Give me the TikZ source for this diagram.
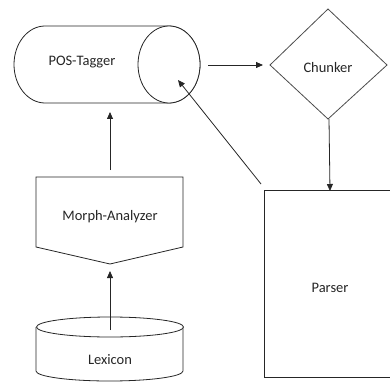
\documentclass[tikz,border=0pt]{standalone}
\usepackage{fontspec}
\setmainfont{Carlito}
\usetikzlibrary{arrows.meta}
\begin{document}
\begin{tikzpicture}[x=1pt,y=-1pt,
  shapeline/.style={draw=black!85,line width=0.8pt,fill=white},
  conn/.style={draw=black!85,line width=0.8pt,-{Triangle[length=7pt,width=6pt]}},
  lbl/.style={font=\fontsize{14.5}{16}\selectfont,text=black!85,inner sep=0pt}]
\useasboundingbox (0,0) rectangle (390,382);
% POS-Tagger cylinder
\path[shapeline] (169,26) -- (45,26) arc[start angle=270,end angle=90,x radius=31,y radius=38.5] -- (169,103) arc[start angle=90,end angle=-90,x radius=31,y radius=38.5] -- cycle;
\draw[shapeline] (169,64.5) ellipse[x radius=31,y radius=38.5];
\node[lbl] (pos) at (82,62) {POS-Tagger};
% Chunker diamond
\path[shapeline,draw=black!70] (270,65) -- (328,9) -- (387,65) -- (328,119) -- cycle;
\node[lbl] (chunk) at (328,68) {Chunker};
% Parser rectangle
\path[shapeline] (395,190) -- (264,190) -- (264,377) -- (395,377);
\node[lbl] (parser) at (330,288) {Parser};
% Morph-Analyzer pentagon
\path[shapeline] (36,177) -- (183,177) -- (183,247) -- (110,264) -- (36,247) -- cycle;
\node[lbl] (morph) at (110,217) {Morph-Analyzer};
% Lexicon cylinder
\path[shapeline] (36,327) -- (36,371) arc[start angle=180,end angle=0,x radius=73.5,y radius=10] -- (183,327);
\draw[shapeline] (110,327) ellipse[x radius=73.5,y radius=10];
\node[lbl] (lex) at (110,360) {Lexicon};
% connector end points
\coordinate (posR) at (208,65);
\coordinate (chunkL) at (263,65);
\coordinate (chunkB) at (329,119);
\coordinate (parserT) at (330,191);
\coordinate (parserC) at (261,184);
\coordinate (posE) at (178,80);
\coordinate (morphT) at (110,170);
\coordinate (posB) at (110,112);
\coordinate (lexT) at (110,330);
\coordinate (morphB) at (110,271);
% connectors
\draw[conn] (posR) -- (chunkL);
\draw[conn] (chunkB) -- (parserT);
\draw[conn] (parserC) -- (posE);
\draw[conn] (morphT) -- (posB);
\draw[conn] (lexT) -- (morphB);
\end{tikzpicture}
\end{document}
